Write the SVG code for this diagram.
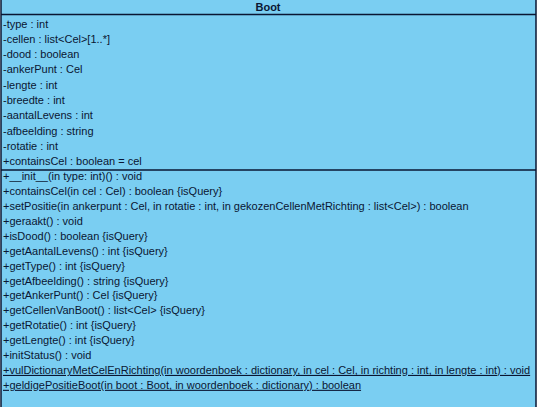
<svg xmlns="http://www.w3.org/2000/svg" width="538" height="407" viewBox="0 0 538 407">
<style>
.box{fill:#7ACEF2;stroke:#0A1633;stroke-width:1.5}
.sep{stroke:#0A1633;stroke-width:1.5}
text{font-family:"Liberation Sans",Arial,sans-serif;font-size:11px;fill:#0A1633}
.title{font-weight:bold;text-anchor:middle}
.u{text-decoration:underline}
</style>
<rect width="538" height="407" fill="#ffffff"/>
<g id="Boot">
<rect class="box" x="1" y="-1" width="535" height="410"/>
<text class="title" x="268" y="11">Boot</text>
<line class="sep" x1="1" y1="14.5" x2="536" y2="14.5"/>
<text x="3" y="27.5">-type : int</text>
<text x="3" y="42.8">-cellen : list&lt;Cel&gt;[1..*]</text>
<text x="3" y="58.1">-dood : boolean</text>
<text x="3" y="73.4">-ankerPunt : Cel</text>
<text x="3" y="88.7">-lengte : int</text>
<text x="3" y="104">-breedte : int</text>
<text x="3" y="119.3">-aantalLevens : int</text>
<text x="3" y="134.6">-afbeelding : string</text>
<text x="3" y="149.9">-rotatie : int</text>
<text x="3" y="165.2">+containsCel : boolean = cel</text>
<line class="sep" x1="1" y1="170" x2="536" y2="170"/>
<text x="3" y="180.2">+__init__(in type: int)() : void</text>
<text x="3" y="195.1">+containsCel(in cel : Cel) : boolean {isQuery}</text>
<text x="3" y="210">+setPositie(in ankerpunt : Cel, in rotatie : int, in gekozenCellenMetRichting : list&lt;Cel&gt;) : boolean</text>
<text x="3" y="224.9">+geraakt() : void</text>
<text x="3" y="239.8">+isDood() : boolean {isQuery}</text>
<text x="3" y="254.7">+getAantalLevens() : int {isQuery}</text>
<text x="3" y="269.6">+getType() : int {isQuery}</text>
<text x="3" y="284.5">+getAfbeelding() : string {isQuery}</text>
<text x="3" y="299.4">+getAnkerPunt() : Cel {isQuery}</text>
<text x="3" y="314.3">+getCellenVanBoot() : list&lt;Cel&gt; {isQuery}</text>
<text x="3" y="329.2">+getRotatie() : int {isQuery}</text>
<text x="3" y="344.1">+getLengte() : int {isQuery}</text>
<text x="3" y="359">+initStatus() : void</text>
<text class="u" x="3" y="373.9">+vulDictionaryMetCelEnRichting(in woordenboek : dictionary, in cel : Cel, in richting : int, in lengte : int) : void</text>
<text class="u" x="3" y="388.8">+geldigePositieBoot(in boot : Boot, in woordenboek : dictionary) : boolean</text>
</g>
</svg>
